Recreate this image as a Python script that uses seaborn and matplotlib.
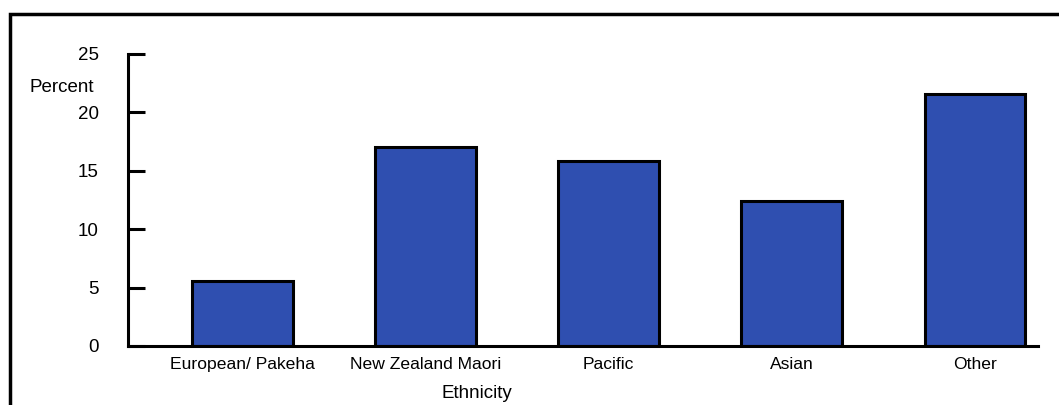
import matplotlib
matplotlib.use("Agg")
import matplotlib.pyplot as plt
from matplotlib.patches import Rectangle
import seaborn as sns
import pandas as pd

# Share of respondents by ethnic group (%)
ethnicity = ["European/ Pakeha", "New Zealand Maori", "Pacific", "Asian", "Other"]
percent = [5.6, 17.0, 15.8, 12.4, 21.6]
y_ticks = [0, 5, 10, 15, 20, 25]

df = pd.DataFrame({"Ethnicity": ethnicity, "Percent": percent})

sns.set_theme(style="white")
plt.rcParams["font.family"] = ["Liberation Sans", "DejaVu Sans"]

W, H = 1059, 405
fig = plt.figure(figsize=(W / 100, H / 100), dpi=100)
ax = fig.add_axes([128 / W, 1 - 346 / H, (1038 - 128) / W, (346 - 54) / H])

sns.barplot(data=df, x="Ethnicity", y="Percent", color="#2F4FB0",
            saturation=1, width=0.55, edgecolor="black", linewidth=2.2, ax=ax)

ax.set_ylim(0, 25)
ax.set_xlim(-0.623, 4.344)
ax.set_yticks(y_ticks)
ax.set_yticklabels([str(t) for t in y_ticks])

for side in ("top", "right"):
    ax.spines[side].set_visible(False)
for side in ("left", "bottom"):
    ax.spines[side].set_linewidth(2.2)
    ax.spines[side].set_color("black")

ax.tick_params(axis="y", direction="in", length=12, width=2.2, color="black",
               pad=21, labelsize=13.5, labelcolor="black", left=True)
ax.tick_params(axis="x", length=0, pad=8, labelsize=12.6, labelcolor="black")

ax.set_ylabel("")
ax.set_xlabel("Ethnicity", fontsize=13.5, color="black")
ax.xaxis.set_label_coords((477 - 128) / 910, (346 - 393) / 292)
ax.xaxis.label.set_verticalalignment("center")

fig.text(94 / W, 1 - 88 / H, "Percent", ha="right", va="center",
         fontsize=13.5, color="black")

# Outer border of the chart panel
fig.add_artist(Rectangle((10 / W, -0.2), 1.2, 1.2 - 14 / H,
                         transform=fig.transFigure, fill=False,
                         linewidth=2.5, edgecolor="black", clip_on=False))

fig.savefig("out.png", dpi=100, facecolor="white")
